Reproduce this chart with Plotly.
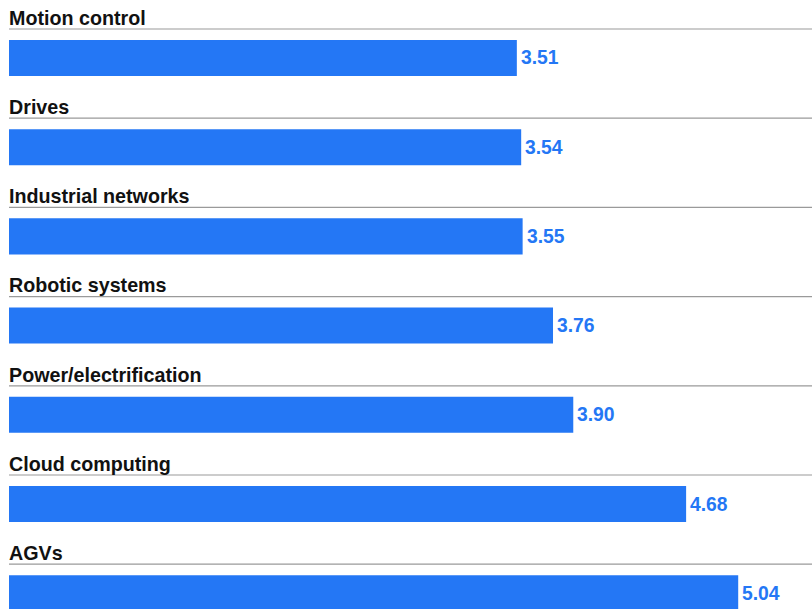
import plotly.graph_objects as go

categories = ["Motion control", "Drives", "Industrial networks", "Robotic systems",
              "Power/electrification", "Cloud computing", "AGVs"]
values = [3.51, 3.54, 3.55, 3.76, 3.90, 4.68, 5.04]

BLUE = "#2477F5"
FONT = "Liberation Sans, Arial, Helvetica, sans-serif"

pos = list(range(len(categories)))

fig = go.Figure(go.Bar(
    x=values,
    y=pos,
    orientation="h",
    width=0.404,
    marker=dict(color=BLUE, line=dict(width=0)),
    hoverinfo="skip",
))

shapes = []
annotations = []
for i, (cat, v) in enumerate(zip(categories, values)):
    shapes.append(dict(type="line", xref="paper", x0=0, x1=1, yref="y",
                       y0=i - 0.325, y1=i - 0.325,
                       line=dict(color="#9a9a9a", width=1.2)))
    # category title above each bar
    annotations.append(dict(text=cat, xref="x", x=0, xanchor="left", xshift=-2,
                            yref="y", y=i - 0.45, yanchor="middle",
                            showarrow=False,
                            font=dict(family=FONT, size=19.7, color="#111111",
                                      weight="bold")))
    # value label at the end of each bar
    annotations.append(dict(text=f"{v:.2f}", xref="x", x=v, xanchor="left", xshift=2,
                            yref="y", y=i, yanchor="middle",
                            showarrow=False,
                            font=dict(family=FONT, size=19.3, color=BLUE,
                                      weight="bold")))

fig.update_layout(
    width=812, height=609,
    margin=dict(l=9, r=0, t=0, b=0),
    paper_bgcolor="white", plot_bgcolor="white",
    showlegend=False,
    shapes=shapes,
    annotations=annotations,
    xaxis=dict(range=[0, 5.55], visible=False, fixedrange=True),
    yaxis=dict(range=[6.177, -0.650], visible=False, fixedrange=True),
)

fig.write_html("out.html")
